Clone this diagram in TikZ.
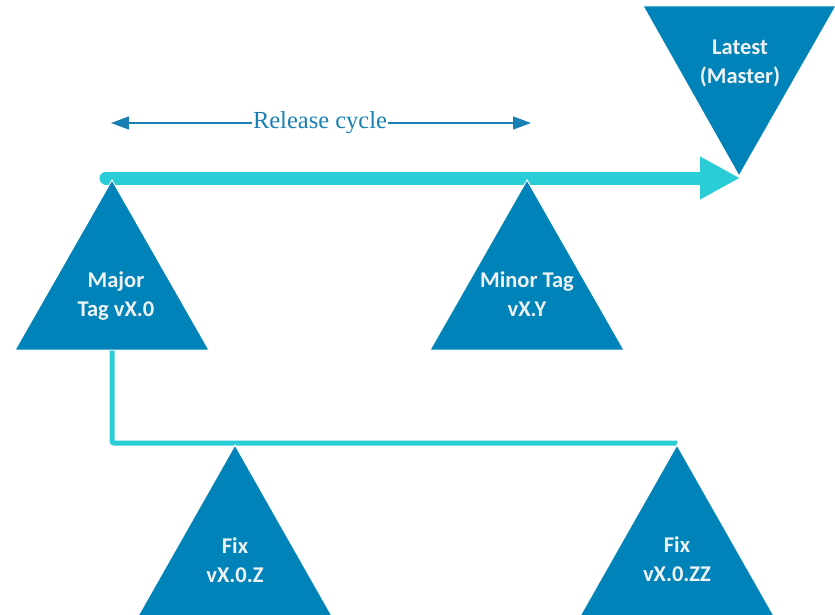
\documentclass[tikz,border=0pt]{standalone}
\usepackage{fontspec}
\setmainfont{Liberation Serif}
\newfontfamily\tagfont{Carlito}[BoldFont={Carlito Bold}]
\usetikzlibrary{arrows.meta}
\definecolor{triblue}{HTML}{0083B8}
\definecolor{cyanline}{HTML}{2ACCD6}
\definecolor{captxt}{HTML}{1A80B4}
\definecolor{tagtxt}{HTML}{EEF2F5}
\tikzset{
  tri/.style={fill=triblue, draw=white, line width=1pt, line join=miter},
  tagtext/.style={text=tagtxt, font=\tagfont\bfseries\fontsize{22.5}{29}\selectfont, align=center, inner sep=0pt},
  flow/.style={draw=cyanline, line width=13pt, line cap=round, -{Triangle[length=40pt,width=40pt]}},
  branch/.style={draw=cyanline, line width=5pt, rounded corners=2pt},
  cycle arrow/.style={draw=captxt, line width=1.2pt, -{Triangle[length=18pt,width=13pt]}}
}
\begin{document}
\begin{tikzpicture}[x=1pt,y=-1pt]
\useasboundingbox (0,0) rectangle (835,615);
% key points
\coordinate (majA) at (112,180);
\coordinate (minA) at (527,180);
\coordinate (fixA) at (235,445);
\coordinate (fixB) at (677,445);
\coordinate (latA) at (739,176);
\coordinate (flowS) at (106,178);
\coordinate (flowE) at (740,178);
\coordinate (majB) at (112,350);
\coordinate (brE) at (677,443);
% release cycle
\node[font=\fontsize{24.5}{28}\selectfont, text=captxt, fill=white, inner sep=1pt] (rc) at (320,123) {Release cycle};
\coordinate (rcL) at (111,123);
\coordinate (rcR) at (531,123);
\draw[cycle arrow] (rc.west) -- (rcL);
\draw[cycle arrow] (rc.east) -- (rcR);
% lines
\draw[flow] (flowS) -- (flowE);
\draw[branch] (majB) |- (brE);
% triangles
\path[tri] (majA) -- (15,350) -- (209,350) -- cycle;
\path[tri] (minA) -- (430,350) -- (624,350) -- cycle;
\path[tri] (fixA) -- (138,616) -- (332,616) -- cycle;
\path[tri] (fixB) -- (580,616) -- (774,616) -- cycle;
\path[tri] (latA) -- (643,6) -- (836,6) -- cycle;
% labels
\node[tagtext] (maj) at (116,296) {Major\\Tag vX.0};
\node[tagtext] (min) at (527,294) {Minor Tag\\vX.Y};
\node[tagtext] (fx1) at (235,560) {Fix\\vX.0.Z};
\node[tagtext] (fx2) at (677,559) {Fix\\vX.0.ZZ};
\node[tagtext] (lat) at (740,63) {Latest\\(Master)};
\end{tikzpicture}
\end{document}
